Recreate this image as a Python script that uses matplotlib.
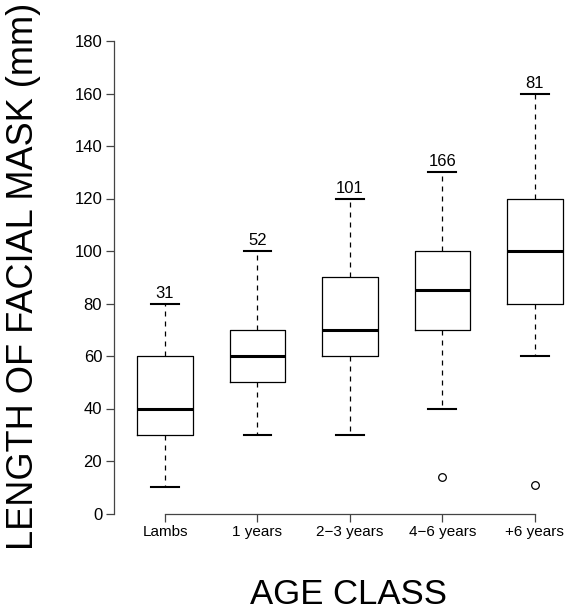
import matplotlib.pyplot as plt

plt.rcParams['font.family'] = ['Liberation Sans', 'DejaVu Sans']

# boxplot summary
age_classes = ['Lambs', '1 years', '2\u22123 years', '4\u22126 years', '+6 years']
whisker_low = [10, 30, 30, 40, 60]
q1 = [30, 50, 60, 70, 80]
medians = [40, 60, 70, 85, 100]
q3 = [60, 70, 90, 100, 120]
whisker_high = [80, 100, 120, 130, 160]
outliers = [[], [], [], [14], [11]]
counts = [31, 52, 101, 166, 81]

stats = []
for i in range(len(age_classes)):
    stats.append({'label': age_classes[i], 'whislo': whisker_low[i], 'q1': q1[i],
                  'med': medians[i], 'q3': q3[i], 'whishi': whisker_high[i],
                  'fliers': outliers[i]})

fig = plt.figure(figsize=(5.69, 6.15), dpi=100)
ax = fig.add_axes([114 / 569, (615 - 513.5) / 615, 455 / 569, 472.5 / 615])

positions = list(range(1, len(age_classes) + 1))
ax.bxp(stats, positions=positions, widths=0.6, showfliers=True,
       boxprops=dict(color='black', linewidth=0.9),
       medianprops=dict(color='black', linewidth=2.2),
       whiskerprops=dict(color='black', linewidth=0.9, linestyle=(0, (4, 4))),
       capprops=dict(color='black', linewidth=1.5),
       capwidths=0.3,
       flierprops=dict(marker='o', markersize=5.5, markerfacecolor='none',
                       markeredgecolor='black', markeredgewidth=0.9))

for p, hi, n in zip(positions, whisker_high, counts):
    ax.text(p, hi + 2.2, str(n), ha='center', va='baseline', fontsize=12)

ax.set_xlim(0.448, 5.37)
ax.set_ylim(0, 180)
ax.set_yticks(range(0, 181, 20))
ax.set_xticks(positions)
ax.set_xticklabels(age_classes)

for s in ['top', 'right']:
    ax.spines[s].set_visible(False)
ax.spines['left'].set_bounds(0, 180)
ax.spines['bottom'].set_bounds(1, 5)
for s in ['left', 'bottom']:
    ax.spines[s].set_color('#444444')
    ax.spines[s].set_linewidth(0.9)
ax.tick_params(axis='both', length=5.5, width=0.9, color='#444444', labelsize=12, pad=3)
ax.tick_params(axis='x', labelsize=11)

fig.text(349 / 569, 1 - 595 / 615, 'AGE CLASS', ha='center', va='center', fontsize=25)
fig.text(24 / 569, 1 - 276 / 615, 'LENGTH OF FACIAL MASK (mm)', ha='center', va='center',
         rotation=90, fontsize=26)

fig.savefig('out.png', dpi=100)
